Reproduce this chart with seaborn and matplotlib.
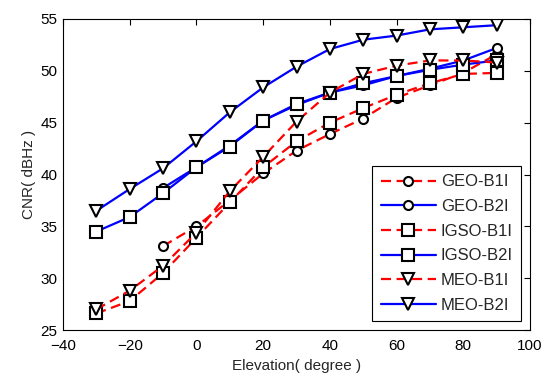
import matplotlib
matplotlib.use("Agg")
import matplotlib.pyplot as plt
import seaborn as sns
import pandas as pd

elev = [-30, -20, -10, 0, 10, 20, 30, 40, 50, 60, 70, 80, 90]
elev_geo = [-10, 0, 10, 20, 30, 40, 50, 60, 70, 80, 90]

geo_b1i = [33.1, 35.0, 37.5, 40.1, 42.3, 43.9, 45.4, 47.4, 48.6, 49.8, 51.6]
geo_b2i = [38.7, 40.7, 42.8, 45.2, 46.7, 47.9, 48.6, 49.5, 50.2, 51.0, 52.2]
igso_b1i = [26.6, 27.8, 30.5, 33.9, 37.3, 40.7, 43.2, 45.0, 46.4, 47.7, 48.8, 49.7, 49.8]
igso_b2i = [34.5, 35.9, 38.2, 40.7, 42.7, 45.2, 46.8, 47.9, 48.8, 49.5, 50.1, 50.6, 51.0]
meo_b1i = [27.0, 28.8, 31.2, 34.4, 38.4, 41.7, 45.1, 47.9, 49.7, 50.5, 51.0, 51.0, 50.8]
meo_b2i = [36.5, 38.6, 40.6, 43.2, 46.0, 48.4, 50.4, 52.1, 53.0, 53.4, 54.0, 54.2, 54.4]

labels = ["GEO-B1I", "GEO-B2I", "IGSO-B1I", "IGSO-B2I", "MEO-B1I", "MEO-B2I"]
x_ticks = [-40, -20, 0, 20, 40, 60, 80, 100]
y_ticks = [25, 30, 35, 40, 45, 50, 55]

sns.set_style("white")
plt.rcParams["font.family"] = ["Liberation Sans", "DejaVu Sans"]

fig = plt.figure(figsize=(5.46, 3.76), dpi=100)
ax = fig.add_axes([0.1154, 0.1223, 0.8553, 0.8272])

series = [
    (elev_geo, geo_b1i, "red", "o", 6.5, "--"),
    (elev_geo, geo_b2i, "blue", "o", 6.5, "-"),
    (elev, igso_b1i, "red", "s", 8, "--"),
    (elev, igso_b2i, "blue", "s", 8, "-"),
    (elev, meo_b1i, "red", "v", 9, "--"),
    (elev, meo_b2i, "blue", "v", 9, "-"),
]

for (xs, ys, col, mk, ms, ls), lab in zip(series, labels):
    df = pd.DataFrame({"x": xs, "y": ys})
    sns.lineplot(data=df, x="x", y="y", ax=ax, color=col, marker=mk,
                 markersize=ms, markeredgecolor="black", markerfacecolor="white",
                 markeredgewidth=1.5, linewidth=1.6, label=lab)
    line = ax.get_lines()[-1]
    if ls == "--":
        line.set_dashes((4.5, 2.5))

ax.set_xlim(-40, 100)
ax.set_ylim(25, 55)
ax.set_xticks(x_ticks)
ax.set_yticks(y_ticks)
ax.set_xlabel("Elevation( degree )", fontsize=11, labelpad=4)
ax.set_ylabel("CNR( dBHz )", fontsize=11, labelpad=3)
ax.tick_params(direction="in", length=4, width=0.8, top=True, right=True,
               labelsize=11, colors="black")
ax.tick_params(axis="x", pad=6.5)
ax.tick_params(axis="y", pad=4)
for s in ax.spines.values():
    s.set_color("black")
    s.set_linewidth(0.8)

leg = ax.legend(loc="upper right", bbox_to_anchor=(0.981, 0.527), borderaxespad=0,
                fontsize=12, numpoints=1, handlelength=3.3, labelspacing=0.58,
                fancybox=False, framealpha=1, edgecolor="black", borderpad=0.5,
                handletextpad=0.3)
leg.get_frame().set_linewidth(0.8)

fig.savefig("out.png", dpi=100)
